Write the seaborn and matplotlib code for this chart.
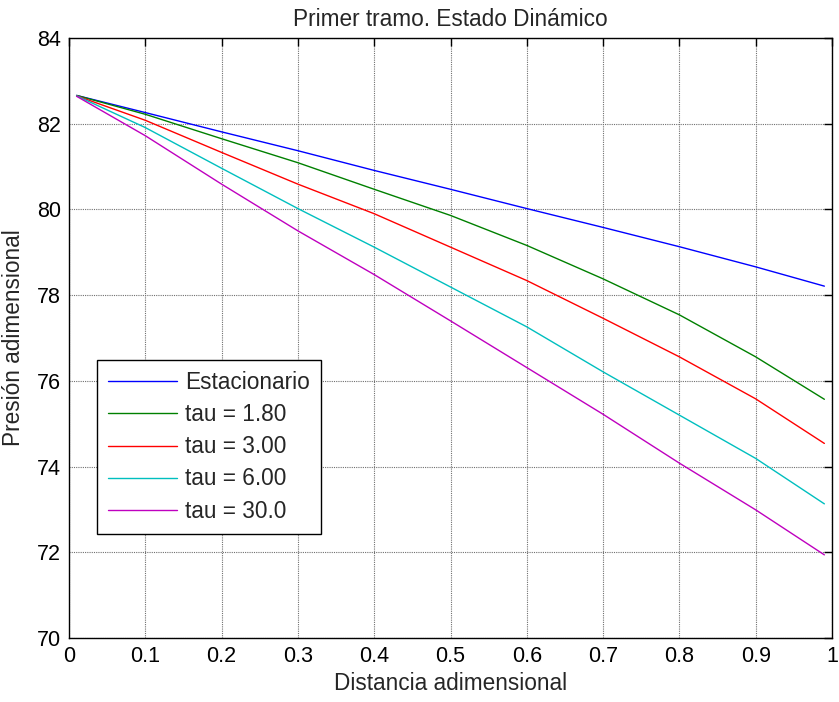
import matplotlib
matplotlib.use("Agg")
import matplotlib.pyplot as plt
import seaborn as sns
import pandas as pd
from matplotlib.lines import Line2D

# Dimensionless distance along the first pipe section
distancia = [0.01, 0.1, 0.2, 0.3, 0.4, 0.5, 0.6, 0.7, 0.8, 0.9, 0.99]

# Dimensionless pressure for the steady state and each dimensionless time tau
estacionario = [82.66, 82.26, 81.81, 81.37, 80.91, 80.47, 80.02, 79.58, 79.13, 78.66, 78.21]
tau_1_80 = [82.66, 82.22, 81.65, 81.09, 80.47, 79.86, 79.16, 78.38, 77.54, 76.56, 75.57]
tau_3_00 = [82.65, 82.08, 81.33, 80.59, 79.90, 79.12, 78.34, 77.46, 76.56, 75.58, 74.54]
tau_6_00 = [82.65, 81.91, 80.96, 80.02, 79.12, 78.19, 77.26, 76.21, 75.20, 74.19, 73.13]
tau_30_0 = [82.64, 81.72, 80.59, 79.50, 78.48, 77.40, 76.31, 75.22, 74.08, 72.99, 71.94]

series = ["Estacionario", "tau = 1.80", "tau = 3.00", "tau = 6.00", "tau = 30.0"]
valores = [estacionario, tau_1_80, tau_3_00, tau_6_00, tau_30_0]
colores = ["#0000ff", "#008000", "#ff0000", "#00bfbf", "#bf00bf"]

x_ticks = [0, 0.1, 0.2, 0.3, 0.4, 0.5, 0.6, 0.7, 0.8, 0.9, 1]
x_ticklabels = ["0", "0.1", "0.2", "0.3", "0.4", "0.5", "0.6", "0.7", "0.8", "0.9", "1"]
y_ticks = [70, 72, 74, 76, 78, 80, 82, 84]

df = pd.DataFrame(
    [(d, p, s) for s, vals in zip(series, valores) for d, p in zip(distancia, vals)],
    columns=["distancia", "presion", "serie"],
)

sns.set_style("white")
plt.rcParams["font.family"] = ["Liberation Sans", "DejaVu Sans"]

fig = plt.figure(figsize=(8.39, 7.02), dpi=100)
ax = fig.add_axes([69 / 839, 1 - 638 / 702, 763 / 839, 600 / 702])

sns.lineplot(
    data=df, x="distancia", y="presion", hue="serie", hue_order=series,
    palette=colores, linewidth=1.0, sort=False, ax=ax, legend=False,
)

ax.set_xlim(0, 1)
ax.set_ylim(70, 84)
ax.set_xticks(x_ticks)
ax.set_xticklabels(x_ticklabels)
ax.set_yticks(y_ticks)

ax.grid(True, color="#707070", linestyle=(0, (1, 1)), linewidth=0.8)
for sp in ax.spines.values():
    sp.set_color("black")
    sp.set_linewidth(1.0)
ax.tick_params(direction="in", length=6, width=1.0, top=True, right=True,
               labelsize=15.5, pad=6, colors="black")

ax.set_title("Primer tramo. Estado Dinámico", fontsize=16.3, pad=9)
ax.set_xlabel("Distancia adimensional", fontsize=16.3, labelpad=3)
ax.set_ylabel("Presión adimensional", fontsize=16.3, labelpad=8)

handles = [Line2D([], [], color=c, linewidth=1.0) for c in colores]
leg = ax.legend(
    handles, series, loc="upper left",
    bbox_to_anchor=((97 - 69) / 763, (638 - 360) / 600), borderaxespad=0,
    fontsize=16.3, frameon=True, fancybox=False, framealpha=1,
    edgecolor="black", handlelength=3.05, handletextpad=0.35,
    labelspacing=0.4, borderpad=0.5,
)
leg.get_frame().set_linewidth(1.0)

fig.savefig("out.png", dpi=100)
